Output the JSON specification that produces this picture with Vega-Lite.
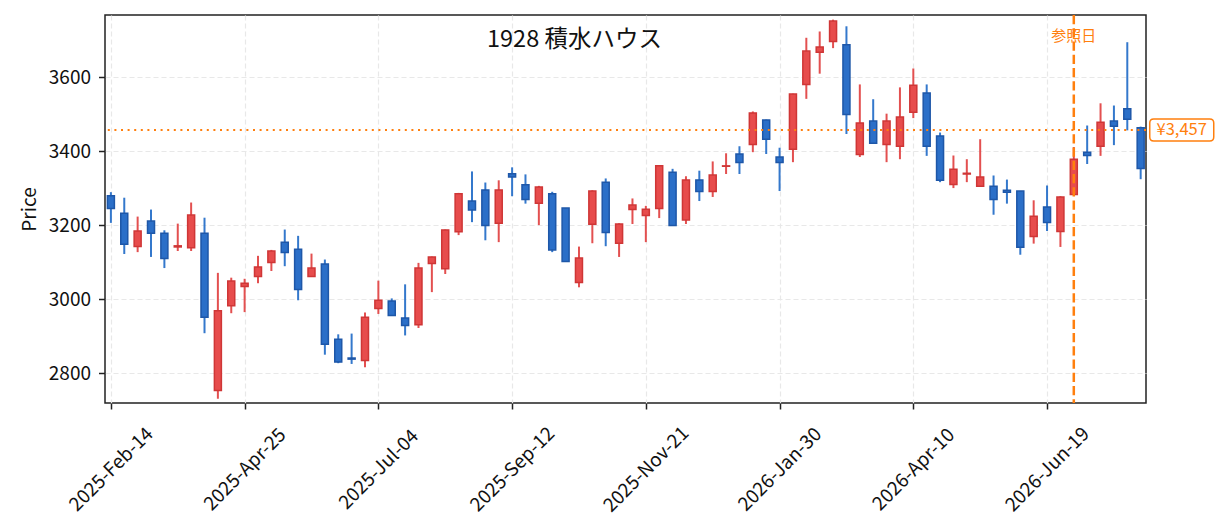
{
  "$schema": "https://vega.github.io/schema/vega-lite/v6.json",
  "width": 1041,
  "height": 388,
  "autosize": "none",
  "padding": {"left": 105, "top": 15, "right": 79, "bottom": 129},
  "background": "white",
  "title": {
    "text": "1928 積水ハウス",
    "fontSize": 23.5,
    "fontWeight": "normal",
    "color": "#111111",
    "anchor": "middle",
    "dx": -51,
    "offset": -38
  },
  "data": {
    "values": [
      {"date": "2025-02-14", "open": 3279, "high": 3289, "low": 3206, "close": 3245},
      {"date": "2025-02-21", "open": 3232, "high": 3274, "low": 3122, "close": 3148},
      {"date": "2025-02-28", "open": 3142, "high": 3223, "low": 3127, "close": 3184},
      {"date": "2025-03-07", "open": 3211, "high": 3242, "low": 3114, "close": 3178},
      {"date": "2025-03-14", "open": 3178, "high": 3186, "low": 3084, "close": 3110},
      {"date": "2025-03-21", "open": 3141, "high": 3204, "low": 3130, "close": 3144},
      {"date": "2025-03-28", "open": 3139, "high": 3261, "low": 3130, "close": 3227},
      {"date": "2025-04-04", "open": 3178, "high": 3220, "low": 2908, "close": 2951},
      {"date": "2025-04-11", "open": 2753, "high": 3071, "low": 2731, "close": 2969},
      {"date": "2025-04-18", "open": 2982, "high": 3058, "low": 2962, "close": 3049},
      {"date": "2025-04-25", "open": 3034, "high": 3055, "low": 2965, "close": 3043},
      {"date": "2025-05-02", "open": 3061, "high": 3117, "low": 3043, "close": 3087},
      {"date": "2025-05-09", "open": 3099, "high": 3133, "low": 3076, "close": 3130},
      {"date": "2025-05-16", "open": 3154, "high": 3188, "low": 3089, "close": 3126},
      {"date": "2025-05-23", "open": 3135, "high": 3171, "low": 2997, "close": 3026},
      {"date": "2025-05-30", "open": 3061, "high": 3123, "low": 3060, "close": 3084},
      {"date": "2025-06-06", "open": 3095, "high": 3107, "low": 2850, "close": 2878},
      {"date": "2025-06-13", "open": 2892, "high": 2905, "low": 2827, "close": 2830},
      {"date": "2025-06-20", "open": 2841, "high": 2907, "low": 2825, "close": 2838},
      {"date": "2025-06-27", "open": 2834, "high": 2964, "low": 2816, "close": 2951},
      {"date": "2025-07-04", "open": 2975, "high": 3050, "low": 2960, "close": 2997},
      {"date": "2025-07-11", "open": 2995, "high": 3002, "low": 2955, "close": 2956},
      {"date": "2025-07-18", "open": 2949, "high": 3040, "low": 2902, "close": 2929},
      {"date": "2025-07-25", "open": 2931, "high": 3098, "low": 2922, "close": 3084},
      {"date": "2025-08-01", "open": 3096, "high": 3115, "low": 3019, "close": 3114},
      {"date": "2025-08-08", "open": 3082, "high": 3188, "low": 3068, "close": 3187},
      {"date": "2025-08-15", "open": 3182, "high": 3287, "low": 3173, "close": 3285},
      {"date": "2025-08-22", "open": 3265, "high": 3345, "low": 3208, "close": 3241},
      {"date": "2025-08-29", "open": 3295, "high": 3315, "low": 3159, "close": 3199},
      {"date": "2025-09-05", "open": 3205, "high": 3321, "low": 3154, "close": 3295},
      {"date": "2025-09-12", "open": 3339, "high": 3356, "low": 3278, "close": 3330},
      {"date": "2025-09-19", "open": 3309, "high": 3337, "low": 3258, "close": 3269},
      {"date": "2025-09-26", "open": 3259, "high": 3306, "low": 3200, "close": 3303},
      {"date": "2025-10-03", "open": 3285, "high": 3290, "low": 3127, "close": 3133},
      {"date": "2025-10-10", "open": 3246, "high": 3246, "low": 3101, "close": 3102},
      {"date": "2025-10-17", "open": 3045, "high": 3142, "low": 3032, "close": 3111},
      {"date": "2025-10-24", "open": 3202, "high": 3294, "low": 3151, "close": 3292},
      {"date": "2025-10-31", "open": 3316, "high": 3326, "low": 3143, "close": 3180},
      {"date": "2025-11-07", "open": 3151, "high": 3205, "low": 3114, "close": 3203},
      {"date": "2025-11-14", "open": 3242, "high": 3272, "low": 3203, "close": 3254},
      {"date": "2025-11-21", "open": 3226, "high": 3252, "low": 3154, "close": 3243},
      {"date": "2025-11-28", "open": 3245, "high": 3362, "low": 3219, "close": 3360},
      {"date": "2025-12-05", "open": 3343, "high": 3352, "low": 3198, "close": 3199},
      {"date": "2025-12-12", "open": 3214, "high": 3332, "low": 3203, "close": 3322},
      {"date": "2025-12-19", "open": 3322, "high": 3347, "low": 3265, "close": 3291},
      {"date": "2025-12-26", "open": 3291, "high": 3372, "low": 3276, "close": 3335},
      {"date": "2026-01-02", "open": 3359, "high": 3394, "low": 3338, "close": 3360},
      {"date": "2026-01-09", "open": 3392, "high": 3413, "low": 3338, "close": 3369},
      {"date": "2026-01-16", "open": 3418, "high": 3507, "low": 3397, "close": 3503},
      {"date": "2026-01-23", "open": 3484, "high": 3485, "low": 3392, "close": 3432},
      {"date": "2026-01-30", "open": 3384, "high": 3409, "low": 3292, "close": 3369},
      {"date": "2026-02-06", "open": 3405, "high": 3555, "low": 3370, "close": 3554},
      {"date": "2026-02-13", "open": 3580, "high": 3706, "low": 3541, "close": 3670},
      {"date": "2026-02-20", "open": 3667, "high": 3723, "low": 3609, "close": 3681},
      {"date": "2026-02-27", "open": 3696, "high": 3755, "low": 3678, "close": 3751},
      {"date": "2026-03-06", "open": 3687, "high": 3737, "low": 3446, "close": 3499},
      {"date": "2026-03-13", "open": 3391, "high": 3580, "low": 3384, "close": 3476},
      {"date": "2026-03-20", "open": 3481, "high": 3540, "low": 3420, "close": 3421},
      {"date": "2026-03-27", "open": 3418, "high": 3501, "low": 3370, "close": 3481},
      {"date": "2026-04-03", "open": 3413, "high": 3572, "low": 3378, "close": 3492},
      {"date": "2026-04-10", "open": 3505, "high": 3623, "low": 3489, "close": 3578},
      {"date": "2026-04-17", "open": 3557, "high": 3580, "low": 3387, "close": 3413},
      {"date": "2026-04-24", "open": 3441, "high": 3450, "low": 3316, "close": 3321},
      {"date": "2026-05-01", "open": 3310, "high": 3388, "low": 3300, "close": 3351},
      {"date": "2026-05-08", "open": 3338, "high": 3378, "low": 3316, "close": 3340},
      {"date": "2026-05-15", "open": 3305, "high": 3432, "low": 3304, "close": 3330},
      {"date": "2026-05-22", "open": 3305, "high": 3334, "low": 3228, "close": 3269},
      {"date": "2026-05-29", "open": 3294, "high": 3323, "low": 3258, "close": 3289},
      {"date": "2026-06-05", "open": 3292, "high": 3292, "low": 3120, "close": 3140},
      {"date": "2026-06-12", "open": 3169, "high": 3267, "low": 3150, "close": 3224},
      {"date": "2026-06-19", "open": 3249, "high": 3307, "low": 3184, "close": 3207},
      {"date": "2026-06-26", "open": 3183, "high": 3278, "low": 3141, "close": 3276},
      {"date": "2026-07-03", "open": 3283, "high": 3411, "low": 3282, "close": 3378},
      {"date": "2026-07-10", "open": 3397, "high": 3469, "low": 3365, "close": 3388},
      {"date": "2026-07-17", "open": 3413, "high": 3529, "low": 3387, "close": 3478},
      {"date": "2026-07-24", "open": 3481, "high": 3523, "low": 3416, "close": 3467},
      {"date": "2026-07-31", "open": 3514, "high": 3694, "low": 3456, "close": 3486},
      {"date": "2026-08-07", "open": 3463, "high": 3466, "low": 3324, "close": 3353}
    ]
  },
  "layer": [
    {
      "mark": {"type": "rule", "strokeWidth": 2},
      "encoding": {
        "x": {
          "field": "date",
          "type": "temporal",
          "title": null,
          "scale": {
            "type": "utc",
            "padding": 0,
            "domain": [
              {"year": 2025, "month": 2, "date": 10, "hours": 22, "utc": true},
              {"year": 2026, "month": 8, "date": 9, "hours": 19, "utc": true}
            ]
          },
          "axis": {
            "values": [
              {"year": 2025, "month": 2, "date": 14, "utc": true},
              {"year": 2025, "month": 4, "date": 25, "utc": true},
              {"year": 2025, "month": 7, "date": 4, "utc": true},
              {"year": 2025, "month": 9, "date": 12, "utc": true},
              {"year": 2025, "month": 11, "date": 21, "utc": true},
              {"year": 2026, "month": 1, "date": 30, "utc": true},
              {"year": 2026, "month": 4, "date": 10, "utc": true},
              {"year": 2026, "month": 6, "date": 19, "utc": true}
            ],
            "labelExpr": "utcFormat(datum.value, '%Y-%b-%d')",
            "labelAngle": -45,
            "labelAlign": "center",
            "labelBaseline": "middle",
            "labelPadding": 60,
            "labelFlush": false,
            "labelOverlap": false,
            "tickSize": 6
          }
        },
        "y": {
          "field": "low",
          "type": "quantitative",
          "title": "Price",
          "scale": {"domain": [2719.5, 3767.5], "nice": false, "zero": false},
          "axis": {
            "values": [2800, 3000, 3200, 3400, 3600],
            "format": "d",
            "labelPadding": 8,
            "tickSize": 6.5,
            "titlePadding": 9
          }
        },
        "y2": {"field": "high"},
        "stroke": {
          "condition": {"test": "datum.close > datum.open", "value": "#e35050"},
          "value": "#3478cc"
        }
      }
    },
    {
      "mark": {"type": "bar", "width": 7, "strokeWidth": 1.5},
      "encoding": {
        "x": {"field": "date", "type": "temporal"},
        "y": {"field": "open", "type": "quantitative"},
        "y2": {"field": "close"},
        "fill": {
          "condition": {"test": "datum.close > datum.open", "value": "#e74c4c"},
          "value": "#2b6fc8"
        },
        "stroke": {
          "condition": {"test": "datum.close > datum.open", "value": "#cf3636"},
          "value": "#1e57a8"
        }
      }
    },
    {
      "data": {"values": [{}]},
      "mark": {"type": "rule", "color": "#ff7f0e", "strokeWidth": 2, "strokeDash": [2, 4.6]},
      "encoding": {"y": {"datum": 3457, "type": "quantitative"}}
    },
    {
      "data": {"values": [{}]},
      "mark": {"type": "rule", "color": "#ff7f0e", "strokeWidth": 2.5, "strokeDash": [9.25, 4]},
      "encoding": {"x": {"datum": {"year": 2026, "month": 7, "date": 3, "utc": true}, "type": "temporal"}}
    },
    {
      "data": {"values": [{"label": "参照日"}]},
      "mark": {"type": "text", "color": "#ff7f0e", "fontSize": 15, "align": "center", "baseline": "middle"},
      "encoding": {
        "x": {"datum": {"year": 2026, "month": 7, "date": 3, "utc": true}, "type": "temporal"},
        "y": {"datum": 3712, "type": "quantitative"},
        "text": {"field": "label"}
      }
    },
    {
      "data": {"values": [{}]},
      "mark": {
        "type": "point",
        "shape": "M -0.875 -0.344 L 0.875 -0.344 Q 1 -0.344 1 -0.219 L 1 0.219 Q 1 0.344 0.875 0.344 L -0.875 0.344 Q -1 0.344 -1 0.219 L -1 -0.219 Q -1 -0.344 -0.875 -0.344 Z",
        "size": 4096,
        "filled": true,
        "fill": "white",
        "stroke": "#ff7f0e",
        "strokeWidth": 1.5,
        "opacity": 1
      },
      "encoding": {
        "x": {"datum": {"year": 2026, "month": 8, "date": 28, "hours": 12, "utc": true}, "type": "temporal"},
        "y": {"datum": 3457, "type": "quantitative"}
      }
    },
    {
      "data": {"values": [{"label": "¥3,457"}]},
      "mark": {"type": "text", "color": "#ff7f0e", "fontSize": 16.5, "align": "center", "baseline": "middle"},
      "encoding": {
        "x": {"datum": {"year": 2026, "month": 8, "date": 28, "hours": 12, "utc": true}, "type": "temporal"},
        "y": {"datum": 3457, "type": "quantitative"},
        "text": {"field": "label"}
      }
    }
  ],
  "config": {
    "font": "Noto Sans CJK JP",
    "view": {"stroke": "#222222", "strokeWidth": 1.5},
    "axis": {
      "domain": false,
      "grid": true,
      "gridColor": "#e8e8e8",
      "gridDash": [5, 3],
      "gridWidth": 1.2,
      "tickColor": "#222222",
      "tickWidth": 1.5,
      "labelFontSize": 19,
      "labelColor": "#111111",
      "titleFontSize": 19,
      "titleFontWeight": "normal",
      "titleColor": "#111111"
    }
  }
}
